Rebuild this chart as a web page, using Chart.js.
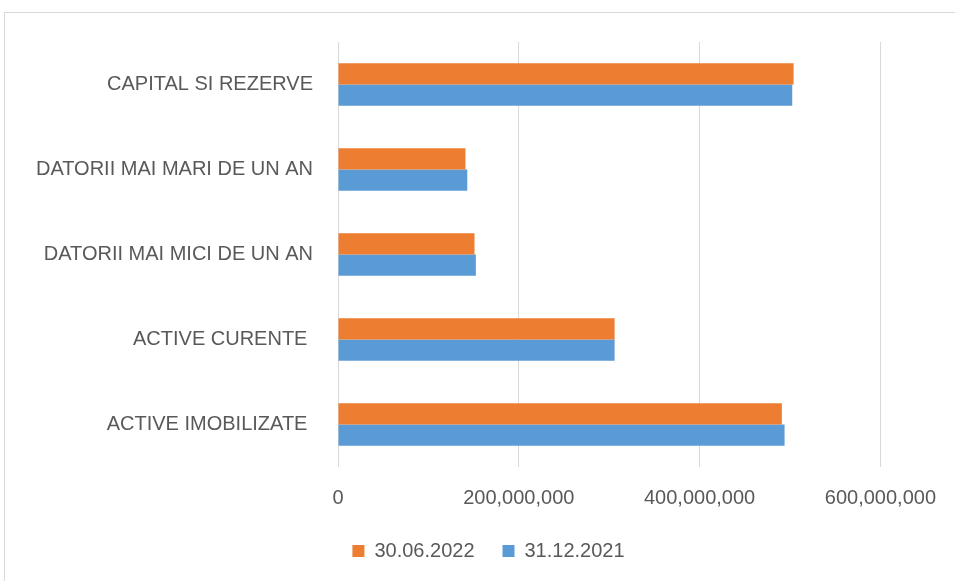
<!DOCTYPE html>
<html>
<head>
<meta charset="utf-8">
<script src="https://cdn.jsdelivr.net/npm/chart.js@4"></script>
<style>
    html, body { margin: 0; padding: 0; background: #fff; overflow: hidden; }
    #frame { position: absolute; left: 4px; top: 12px; width: 1000px; height: 1000px; border: 1.5px solid #d9d9d9; }
    #wrap { position: absolute; left: 0; top: 0; width: 955px; height: 581px; }
</style>
</head>
<body>
<div id="frame"></div>
<div id="wrap"><canvas id="chart"></canvas></div>
<script>
// categorii (de sus in jos)
const categories = [
    'CAPITAL SI REZERVE',
    'DATORII MAI MARI DE UN AN',
    'DATORII MAI MICI DE UN AN',
    'ACTIVE CURENTE ',
    'ACTIVE IMOBILIZATE '
];
const seriesNames = ['30.06.2022', '31.12.2021'];
const values2022 = [504000000, 141000000, 151000000, 306000000, 491000000];
const values2021 = [502500000, 143000000, 152500000, 306000000, 494000000];
const xTicks = [0, 200000000, 400000000, 600000000];

const textColor = '#595959';
const gridColor = '#d9d9d9';
const font = { family: 'Liberation Sans', size: 20 };

function formatNumber(v) {
    return String(v).replace(/\B(?=(\d{3})+(?!\d))/g, ',');
}

// muta legenda putin spre dreapta, ca in original
const shiftLegend = {
    id: 'shiftLegend',
    afterLayout(chart) {
        chart.legend.left += 47;
        chart.legend.right += 47;
    }
};

new Chart(document.getElementById('chart'), {
    type: 'bar',
    data: {
        labels: categories,
        datasets: [
            { label: seriesNames[0], data: values2022, backgroundColor: '#ED7D31' },
            { label: seriesNames[1], data: values2021, backgroundColor: '#5B9BD5' }
        ]
    },
    options: {
        indexAxis: 'y',
        responsive: true,
        maintainAspectRatio: false,
        animation: false,
        categoryPercentage: 0.5,
        barPercentage: 1.0,
        layout: { padding: { left: 0, right: 72, top: 42, bottom: 10 } },
        plugins: {
            tooltip: { enabled: false },
            legend: {
                position: 'bottom',
                labels: {
                    color: textColor,
                    font: font,
                    boxWidth: 12,
                    boxHeight: 12,
                    padding: 28
                }
            }
        },
        scales: {
            x: {
                min: 0,
                max: 600000000,
                afterBuildTicks: (scale) => { scale.ticks = xTicks.map(v => ({ value: v })); },
                afterFit: (scale) => { scale.height = 46; },
                grid: { color: gridColor, drawTicks: false },
                border: { display: false },
                ticks: {
                    color: textColor,
                    font: font,
                    padding: 19,
                    callback: (v) => formatNumber(v)
                }
            },
            y: {
                afterFit: (scale) => { scale.width = 338; },
                grid: { display: false, drawTicks: false },
                border: { display: false },
                ticks: {
                    color: textColor,
                    font: font,
                    padding: 25
                }
            }
        }
    },
    plugins: [shiftLegend]
});
</script>
</body>
</html>
